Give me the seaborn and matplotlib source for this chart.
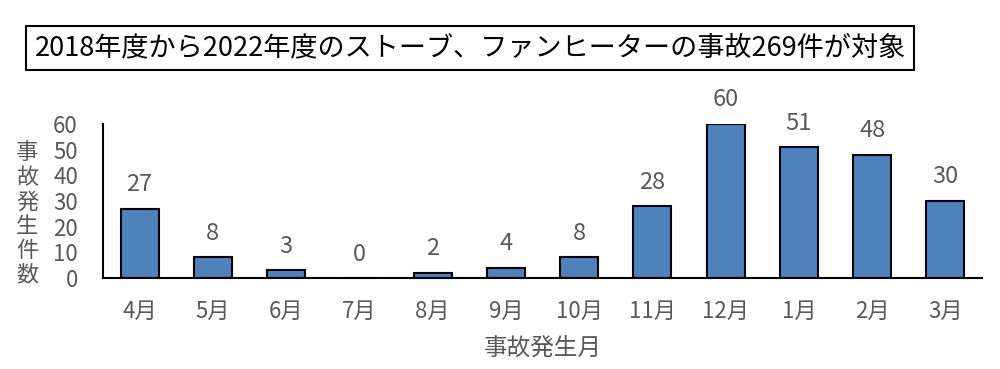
import matplotlib
matplotlib.use("Agg")
import matplotlib.pyplot as plt
import seaborn as sns
import pandas as pd

months = ["4月", "5月", "6月", "7月", "8月", "9月", "10月", "11月", "12月", "1月", "2月", "3月"]
counts = [27, 8, 3, 0, 2, 4, 8, 28, 60, 51, 48, 30]
title = "2018年度から2022年度のストーブ、ファンヒーターの事故269件が対象"
xlabel = "事故発生月"
ylabel = "事故発生件数"

sns.set_theme(style="white")
plt.rcParams["font.family"] = ["Noto Sans CJK JP", "DejaVu Sans"]

df = pd.DataFrame({"month": months, "count": counts})

fig = plt.figure(figsize=(10, 3.69), dpi=100)
ax = fig.add_axes([0.103, 0.2466, 0.879, 0.4174])

sns.barplot(data=df, x="month", y="count", color="#4F81BD", saturation=1,
            width=0.52, edgecolor="black", linewidth=1.5, ax=ax)

grey = "#595959"
for i, v in enumerate(counts):
    ax.annotate(str(v), (i, v), xytext=(0, 9), textcoords="offset points",
                ha="center", va="bottom", fontsize=17, color=grey,
                annotation_clip=False)

ax.set_ylim(0, 60)
ax.set_yticks(range(0, 61, 10))
ax.tick_params(axis="both", length=0, labelsize=16, colors=grey)
ax.tick_params(axis="x", pad=16)
ax.tick_params(axis="y", pad=18)
ax.set_xlabel(xlabel, fontsize=17, color=grey, labelpad=10)
ax.set_ylabel("")
for s in ["top", "right"]:
    ax.spines[s].set_visible(False)
for s in ["left", "bottom"]:
    ax.spines[s].set_color("black")
    ax.spines[s].set_linewidth(1.5)

fig.text(0.027, 0.42, "\n".join(ylabel), ha="center", va="center",
         fontsize=16, color=grey, linespacing=1.08)

fig.text(0.47, 0.87, title, ha="center", va="center", fontsize=19.5, color="black",
         bbox=dict(boxstyle="square,pad=0.3", facecolor="white",
                   edgecolor="black", linewidth=1.5))

fig.savefig("out.png", dpi=100)
